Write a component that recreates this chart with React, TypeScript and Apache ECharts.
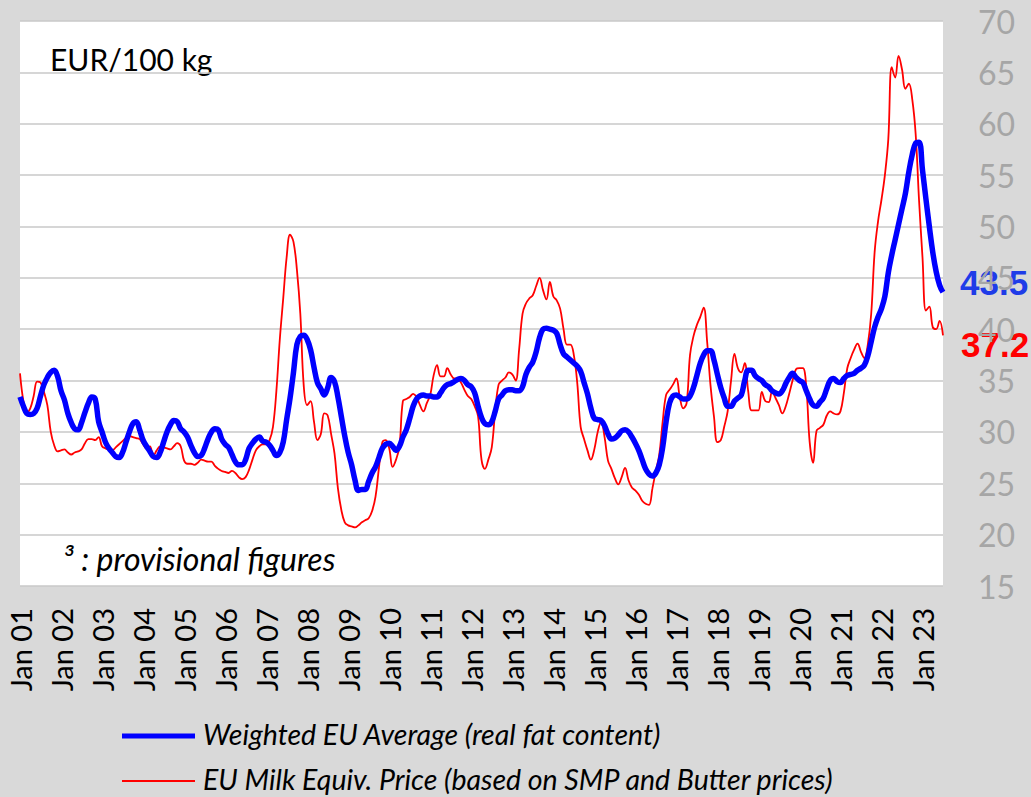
import React, { useEffect, useRef } from "react";
import * as echarts from "echarts";

const monthNames = ["Jan", "Feb", "Mar", "Apr", "May", "Jun", "Jul", "Aug", "Sep", "Oct", "Nov", "Dec"];
const yearLabels = ["01","02","03","04","05","06","07","08","09","10","11","12","13","14","15","16","17","18","19","20","21","22","23"];
const lastMonthIndexOf2023 = 6; // Jul 23

const categories: string[] = [];
yearLabels.forEach((y, yi) => {
  monthNames.forEach((m, mi) => {
    if (yi === yearLabels.length - 1 && mi > lastMonthIndexOf2023) return;
    categories.push(m + " " + y);
  });
});

const weightedAverage = [
  33.4, 32.5, 31.8, 31.7, 31.8, 32.3, 33.5, 34.6, 35.3, 35.8, 36.0, 35.4,
  34.0, 33.1, 31.8, 30.9, 30.3, 30.2, 30.9, 31.9, 32.8, 33.4, 33.2, 31.0,
  30.0, 29.0, 28.4, 28.0, 27.6, 27.5, 28.0, 29.0, 30.0, 30.8, 31.0, 30.2,
  29.2, 28.6, 28.1, 27.6, 27.5, 28.0, 29.0, 30.0, 30.7, 31.1, 31.0, 30.3,
  30.0, 29.5, 28.7, 28.0, 27.6, 27.7, 28.4, 29.3, 30.0, 30.3, 30.2, 29.3,
  28.8, 28.5, 27.8, 27.1, 26.8, 26.8, 27.3, 28.4, 28.9, 29.3, 29.5, 29.1,
  29.0, 28.7, 28.2, 27.7, 28.0, 29.0, 31.2, 33.3, 35.8, 38.5, 39.3, 39.4,
  39.0, 38.0, 36.3, 34.8, 34.2, 33.6, 34.3, 35.3, 34.9, 33.4, 31.5, 29.6,
  28.0, 26.8, 25.3, 24.3, 24.4, 24.4, 25.2, 26.0, 26.6, 27.5, 28.4, 28.8,
  28.9, 28.6, 28.2, 28.6, 29.5, 30.2, 31.3, 32.5, 33.2, 33.5, 33.6, 33.5,
  33.5, 33.4, 33.4, 33.8, 34.3, 34.6, 34.7, 34.9, 35.1, 35.2, 35.0, 34.6,
  34.4, 33.8, 32.5, 31.4, 30.8, 30.7, 31.0, 32.0, 33.2, 33.6, 34.0, 34.1,
  34.1, 34.0, 34.0, 34.4, 35.6, 36.3, 36.8, 37.8, 39.2, 40.0, 40.1, 40.0,
  39.9, 39.6, 38.5, 37.6, 37.3, 37.0, 36.7, 36.4, 35.9, 34.8, 33.7, 32.3,
  31.3, 31.2, 31.1, 30.6, 29.8, 29.3, 29.4, 29.7, 30.1, 30.2, 30.0, 29.5,
  28.9, 28.2, 27.3, 26.4, 25.9, 25.7, 26.0, 26.8, 28.5, 31.0, 32.8, 33.5,
  33.6, 33.4, 33.2, 33.2, 33.5, 34.3, 35.5, 36.7, 37.5, 37.9, 37.9, 37.0,
  35.6, 34.3, 33.3, 32.5, 32.5, 33.0, 33.3, 33.6, 35.0, 36.0, 36.0, 35.5,
  35.2, 35.0, 34.6, 34.4, 34.0, 33.8, 33.7, 34.0, 34.7, 35.3, 35.7, 35.3,
  35.0, 34.8, 34.0, 33.2, 32.6, 32.5, 32.9, 33.3, 34.2, 35.0, 35.2, 34.9,
  34.8, 35.2, 35.5, 35.6, 35.7, 36.0, 36.2, 36.5, 37.4, 38.8, 40.2, 41.2,
  42.0, 43.2, 45.5, 47.2, 48.7, 50.2, 51.7, 53.2, 55.3, 57.0, 58.1, 58.2,
  55.5, 52.7, 50.0, 47.5, 45.6, 44.3, 43.6,
];

const milkEquivalent = [
  35.7, 33.0, 31.9, 32.3, 33.5, 34.9, 34.8, 33.9, 32.6, 30.0, 28.7, 28.1,
  28.2, 28.3, 28.0, 27.8, 28.0, 28.1, 28.3, 28.9, 29.3, 29.3, 29.2, 29.5,
  28.6, 28.4, 28.3, 28.2, 28.5, 28.8, 29.1, 29.4, 29.6, 29.5, 29.4, 29.3,
  28.8, 28.4, 28.6, 27.7, 28.2, 28.6, 28.5, 28.4, 28.3, 28.6, 28.9, 28.6,
  27.2, 26.9, 26.9, 26.8, 27.0, 27.3, 27.2, 27.1, 27.1, 26.7, 26.4, 26.2,
  26.1, 26.0, 26.2, 26.0, 25.6, 25.4, 25.6, 26.3, 27.3, 28.2, 28.6, 28.8,
  28.8, 29.2, 30.5, 34.0, 39.0, 43.0, 47.0, 49.2, 48.5, 45.8, 41.5, 34.5,
  32.6, 33.0, 31.0, 29.2, 29.8, 31.8, 31.6, 29.8, 27.9, 24.5, 22.4, 21.2,
  20.9, 20.8, 20.7, 20.9, 21.2, 21.4, 21.6, 22.3, 23.7, 26.5, 29.0, 29.2,
  28.4, 26.6, 27.3, 28.6, 33.0, 33.2, 33.4, 33.7, 33.4, 32.6, 32.0, 32.8,
  33.6, 35.5, 36.5, 35.4, 35.4, 36.2, 35.6, 35.2, 35.2, 34.8, 34.1, 33.5,
  33.2, 32.5, 31.5, 27.3, 26.4, 27.3, 28.5, 32.0, 34.6, 35.0, 35.3, 35.8,
  35.6, 35.0, 38.0, 41.5, 42.5, 43.0, 43.3, 44.2, 45.0, 43.8, 42.9, 44.6,
  43.2, 42.8, 42.0, 40.0, 38.5, 38.5, 37.5, 34.8, 30.5, 29.3, 28.2, 27.3,
  28.3, 30.0, 31.0, 29.5, 27.2, 26.4, 25.5, 24.9, 25.6, 26.5, 25.3, 24.6,
  24.3, 23.9, 23.3, 23.0, 22.9, 24.5, 26.2, 27.8, 31.0, 33.6, 34.1, 34.6,
  35.2, 33.4, 32.3, 32.8, 37.5, 39.3, 40.4, 41.2, 42.1, 38.8, 34.5, 31.5,
  29.0, 29.2, 30.5, 32.0, 35.0, 37.6, 36.2, 35.8, 36.7, 34.0, 32.1, 32.1,
  32.1, 33.9, 33.0, 32.9, 33.9, 33.3, 32.6, 31.8, 32.5, 33.7, 35.0, 36.1,
  36.2, 36.2, 34.4, 29.0, 27.0, 30.1, 30.4, 30.7, 31.6, 32.0, 31.8, 31.7,
  32.0, 33.8, 36.2, 37.2, 38.0, 38.6, 37.8, 37.2, 38.5, 41.5, 47.5, 50.5,
  52.6, 55.0, 58.5, 65.5, 64.5, 66.6, 65.3, 63.4, 63.9, 62.4, 59.0, 52.5,
  47.0, 41.8, 42.2, 40.2, 40.0, 40.8, 39.4,
];

const seriesNames = [
  "Weighted EU Average (real fat content)",
  "EU Milk Equiv. Price (based on SMP and Butter prices)",
];
const seriesColors = ["#0000ff", "#ff0000"];
const seriesWidths = [5.5, 1.8];
const latestLabels = ["43.5", "37.2"];
const yTicks = { min: 15, max: 70, interval: 5 };

export default function App() {
  const ref = useRef<HTMLDivElement>(null);
  useEffect(() => {
    if (!ref.current) return;
    const chart = echarts.init(ref.current, undefined, { renderer: "svg" });
    const font = "Lato, 'Liberation Sans', sans-serif";
    const legendRows = [734, 779];
    const legendGraphics: any[] = [];
    seriesNames.forEach((name, i) => {
      legendGraphics.push({
        type: "line",
        shape: { x1: 122, y1: legendRows[i] + 2, x2: 195, y2: legendRows[i] + 2 },
        style: { stroke: seriesColors[i], lineWidth: i === 0 ? 5 : 2 },
      });
      legendGraphics.push({
        type: "text",
        x: 203,
        y: legendRows[i],
        style: {
          text: name,
          fontFamily: font,
          fontStyle: "italic",
          fontSize: 28.5,
          fill: "#000000",
          verticalAlign: "middle",
          align: "left",
        },
      });
    });
    chart.setOption({
      animation: false,
      backgroundColor: "#d9d9d9",
      grid: {
        left: 20,
        right: 88,
        top: 21,
        bottom: 211,
        show: true,
        backgroundColor: "#ffffff",
        borderWidth: 0,
      },
      xAxis: {
        type: "category",
        data: categories,
        boundaryGap: false,
        axisLine: { show: false },
        axisTick: { show: false },
        splitLine: { show: false },
        axisLabel: {
          interval: (idx: number) => idx % 12 === 0,
          rotate: 90,
          margin: 22,
          fontFamily: font,
          fontSize: 29,
          color: "#000000",
        },
      },
      yAxis: {
        type: "value",
        position: "right",
        min: yTicks.min,
        max: yTicks.max,
        interval: yTicks.interval,
        axisLine: { show: false },
        axisTick: { show: false },
        splitLine: { show: true, lineStyle: { color: "#c8c8c8", width: 1.5 } },
        axisLabel: {
          margin: 35,
          fontFamily: font,
          fontSize: 32,
          color: "#a6a6a6",
        },
      },
      series: [
        {
          name: seriesNames[0],
          type: "line",
          data: weightedAverage,
          symbol: "none",
          smooth: 0.4,
          z: 3,
          lineStyle: { color: seriesColors[0], width: seriesWidths[0] },
          itemStyle: { color: seriesColors[0] },
        },
        {
          name: seriesNames[1],
          type: "line",
          data: milkEquivalent,
          symbol: "none",
          smooth: 0.4,
          z: 2,
          lineStyle: { color: seriesColors[1], width: seriesWidths[1] },
          itemStyle: { color: seriesColors[1] },
        },
      ],
      graphic: [
        {
          type: "text",
          left: 50,
          top: 44,
          style: { text: "EUR/100 kg", fontFamily: font, fontSize: 30, fill: "#000000" },
        },
        {
          type: "text",
          left: 63,
          top: 542,
          style: { text: "³ : provisional figures", fontFamily: font, fontStyle: "italic", fontSize: 32, fill: "#000000" },
        },
        {
          type: "text",
          left: 960,
          top: 265,
          style: { text: latestLabels[0], fontFamily: "'Liberation Sans', Arial, sans-serif", fontWeight: "bold", fontSize: 35, fill: "#1f3ce8" },
        },
        {
          type: "text",
          left: 961,
          top: 327,
          style: { text: latestLabels[1], fontFamily: "'Liberation Sans', Arial, sans-serif", fontWeight: "bold", fontSize: 35, fill: "#ff0000" },
        },
        ...legendGraphics,
      ],
    });
    return () => chart.dispose();
  }, []);
  return (
    <div
      ref={ref}
      style={{ position: "fixed", left: 0, top: 0, width: 1031, height: 797 }}
    />
  );
}
